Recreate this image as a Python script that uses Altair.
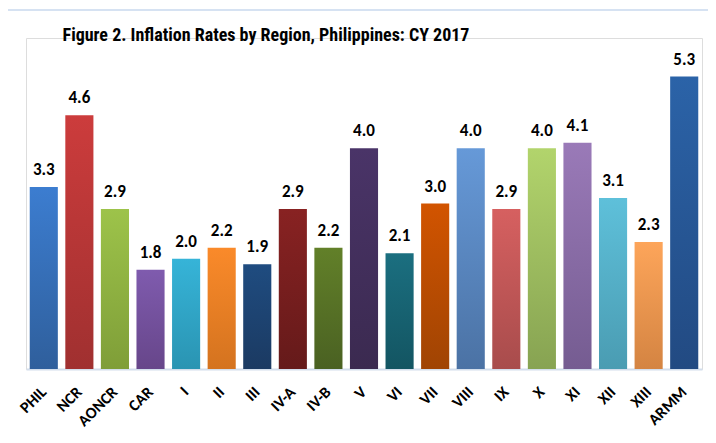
import altair as alt
import pandas as pd

regions = ["PHIL", "NCR", "AONCR", "CAR", "I", "II", "III", "IV-A", "IV-B", "V",
           "VI", "VII", "VIII", "IX", "X", "XI", "XII", "XIII", "ARMM"]
rates = [3.3, 4.6, 2.9, 1.8, 2.0, 2.2, 1.9, 2.9, 2.2, 4.0,
         2.1, 3.0, 4.0, 2.9, 4.0, 4.1, 3.1, 2.3, 5.3]
top_colors = ["#3C7DD0", "#CC3C3C", "#9DC34A", "#7F5BAE", "#36B4D8", "#FA8A2A", "#1F4C80",
              "#882222", "#628029", "#4A3468", "#1B6F80", "#D25400", "#6699D8", "#D66060",
              "#B2D46C", "#9A7AB8", "#5EC0DA", "#FDA55A", "#2B63A8"]
bottom_colors = ["#2F5F9C", "#A03030", "#7F9E38", "#67468A", "#2A94B2", "#D4731F", "#1B3A62",
                 "#651A1A", "#4A6122", "#3B2A50", "#135562", "#A04403", "#4B72A4", "#A84C4C",
                 "#87A352", "#755C91", "#4A9CB2", "#D48442", "#224A82"]
title_text = "Figure 2. Inflation Rates by Region, Philippines:  CY 2017"

FONT = "Carlito"
TITLE_FONT = "Roboto Condensed"

df = pd.DataFrame({"region": regions, "rate": rates})
base = alt.Chart(df)

x_enc = alt.X("region:N", sort=regions,
              scale=alt.Scale(paddingInner=0.21, paddingOuter=0.105),
              axis=alt.Axis(title=None, labelAngle=-45, labelAlign="right",
                            labelBaseline="middle", labelPadding=20,
                            labelFontSize=16, labelFontWeight="bold", labelColor="black",
                            labelFont=FONT, ticks=False, domainColor="#D3DEEC",
                            domainWidth=2, grid=False))
y_enc = alt.Y("rate:Q", scale=alt.Scale(domain=[0, 6], nice=False), axis=None)

layers = []
for r, t, b in zip(regions, top_colors, bottom_colors):
    grad = alt.LinearGradient(gradient="linear", x1=0, x2=0, y1=0, y2=1,
                              stops=[alt.GradientStop(color=t, offset=0),
                                     alt.GradientStop(color=b, offset=1)])
    layers.append(
        base.transform_filter(alt.datum.region == r)
        .mark_bar(color=grad)
        .encode(x=x_enc, y=y_enc)
    )

labels = base.mark_text(dy=-12, fontSize=17, fontWeight="bold", font=FONT,
                        color="black", baseline="alphabetic").encode(
    x=x_enc, y=y_enc, text=alt.Text("rate:Q", format=".1f"))

frame_df = pd.DataFrame({"k": [0]})
frame_top = alt.Chart(frame_df).mark_rule(color="#D6E2F2", strokeWidth=2).encode(
    x=alt.value(-24), x2=alt.value(690), y=alt.value(-28))
frame_left = alt.Chart(frame_df).mark_rule(color="#D6E2F2", strokeWidth=2).encode(
    x=alt.value(-24), y=alt.value(-28), y2=alt.value(400))

title_df = pd.DataFrame({"t": [title_text]})
title = alt.Chart(title_df).mark_text(fontSize=18, fontWeight="bold", font=TITLE_FONT,
                                      color="black", align="center",
                                      baseline="middle").encode(
    x=alt.value(240), y=alt.value(-2), text="t:N")

chart = alt.layer(frame_top, frame_left, *layers, labels, title).properties(
    width=676, height=331,
    autosize=alt.AutoSizeParams(type="none"),
    padding={"left": 18, "top": 30, "right": 6, "bottom": 66},
).configure_view(stroke=None).configure(background="white")

chart.save("out.html", embed_options={"renderer": "svg", "actions": False})
